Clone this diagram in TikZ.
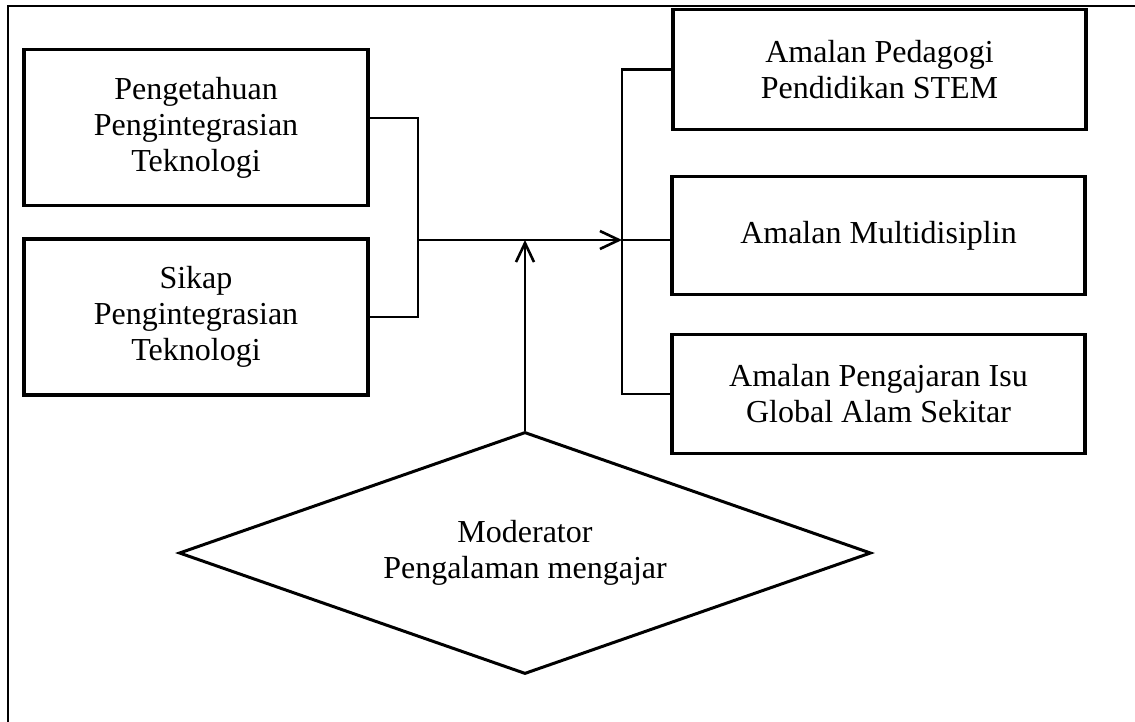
\documentclass[tikz,border=0pt]{standalone}
\usepackage{fontspec}
\setmainfont{Liberation Serif}
\usetikzlibrary{arrows.meta, shapes.geometric, positioning}

\begin{document}
\begin{tikzpicture}[
  x=0.5pt, y=-0.5pt,
  >={Straight Barb[length=9.5pt, width=9pt]},
  box/.style={rectangle, draw=black, line width=1.8pt, align=center,
    inner sep=0pt, font=\fontsize{16}{18}\selectfont},
  modnode/.style={diamond, draw=black, line width=1.5pt, align=center,
    inner sep=0pt, shape aspect=2.22, minimum width=346pt,
    minimum height=121pt, font=\fontsize{16}{18}\selectfont},
  conn/.style={line width=1.3pt},
  arr/.style={->, line width=1.3pt},
  frame/.style={line width=1.1pt}
]
\useasboundingbox (0,0) rectangle (1135,722);

% ---- Outer frame ----
\draw[frame] (8,722) -- (8,6) -- (1135,6);

% ---- Independent variables ----
\node[box, minimum width=172pt, minimum height=78pt] (pit) at (196,127.5)
  {Pengetahuan\\Pengintegrasian\\Teknologi};
\node[box, minimum width=172pt, minimum height=78pt] (sit) at (196,317)
  {Sikap\\Pengintegrasian\\Teknologi};

% ---- Dependent variables ----
\node[box, minimum width=206.5pt, minimum height=60pt] (ped) at (879.5,69.5)
  {Amalan Pedagogi\\Pendidikan STEM};
\node[box, minimum width=206.5pt, minimum height=59pt] (mul) at (878.5,235.5)
  {Amalan Multidisiplin};
\node[box, minimum width=206.5pt, minimum height=59.5pt] (isu) at (878.5,394)
  {Amalan Pengajaran Isu\\Global Alam Sekitar};

% ---- Moderator ----
\node[modnode] (mod) at (525,553) {Moderator\\Pengalaman mengajar};

% ---- Junctions ----
\coordinate (jl) at (418,240);
\coordinate (bus) at (622,240);

% ---- Connectors ----
\draw[conn] ([yshift=4.75pt]pit.east) -| (jl) |- (sit.east);
\draw[arr] (jl) -- (bus);
\draw[conn] (ped.west) -| (bus) |- (isu.west);
\draw[conn] (bus) -- (bus -| mul.west);
\draw[arr] (mod.north) -- (mod.north |- jl);

\end{tikzpicture}
\end{document}
